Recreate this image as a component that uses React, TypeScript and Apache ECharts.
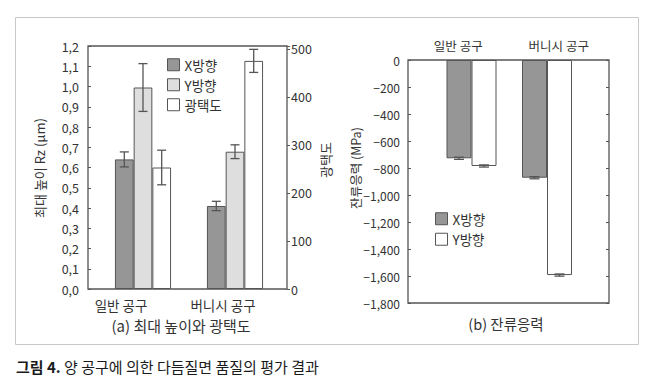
import React, { useEffect, useRef } from "react";
import * as echarts from "echarts";

const categories = ["일반 공구", "버니시 공구"];
// (a) roughness Rz (µm) and gloss
const rzX = [0.64, 0.41];
const rzXErr = [0.037, 0.023];
const rzY = [0.995, 0.678];
const rzYErr = [0.118, 0.034];
const gloss = [253, 475];
const glossErr = [36, 24];
// (b) residual stress (MPa)
const stressX = [-728, -872];
const stressXErr = [8, 8];
const stressY = [-785, -1593];
const stressYErr = [8, 8];

const FONT = '"Noto Sans CJK KR", "Noto Sans", sans-serif';
const TXT = "#333";
const LINE = "#555";
const DARK = "#969696";
const LIGHT = "#dedede";
const WHITE = "#ffffff";

const A_BAR_W = 18.7;
const B_BAR_W = 25;

function errSeries(
  xAxisIndex: number,
  yAxisIndex: number,
  values: number[],
  errs: number[],
  offset: number,
  cap: number
) {
  return {
    type: "custom",
    xAxisIndex,
    yAxisIndex,
    z: 5,
    silent: true,
    data: values.map((v, i) => [i, v, errs[i]]),
    renderItem: (params: any, api: any) => {
      const i = api.value(0);
      const v = api.value(1);
      const e = api.value(2);
      const top = api.coord([i, v + e]);
      const bot = api.coord([i, v - e]);
      const x = top[0] + offset;
      const st = { stroke: LINE, lineWidth: 1.3, fill: null };
      return {
        type: "group",
        children: [
          { type: "line", shape: { x1: x, y1: top[1], x2: x, y2: bot[1] }, style: st },
          { type: "line", shape: { x1: x - cap, y1: top[1], x2: x + cap, y2: top[1] }, style: st },
          { type: "line", shape: { x1: x - cap, y1: bot[1], x2: x + cap, y2: bot[1] }, style: st },
        ],
      };
    },
  };
}

export default function App() {
  const ref = useRef<HTMLDivElement>(null);

  useEffect(() => {
    if (!ref.current) return;
    const chart = echarts.init(ref.current, undefined, { renderer: "svg" });

    const hiddenCat = (gridIndex: number) => ({
      type: "category",
      gridIndex,
      data: categories,
      show: false,
      boundaryGap: true,
    });

    const option: any = {
      animation: false,
      backgroundColor: "#fff",
      textStyle: { fontFamily: FONT },
      grid: [
        { left: 88, top: 46, width: 199, height: 243, show: true, borderColor: LINE, borderWidth: 1.3, backgroundColor: "transparent" },
        { left: 70, top: 46, width: 204, height: 243 },
        { left: 97, top: 46, width: 184, height: 243 },
        { left: 408, top: 60, width: 201, height: 243, show: true, borderColor: LINE, borderWidth: 1.3, backgroundColor: "transparent" },
        { left: 433.75, top: 60, width: 151, height: 243 },
      ],
      xAxis: [
        hiddenCat(0),
        {
          type: "category",
          gridIndex: 1,
          data: categories,
          axisLine: { show: false },
          axisTick: { show: false },
          axisLabel: { fontSize: 13.5, color: TXT, margin: 9, fontFamily: FONT },
        },
        hiddenCat(2),
        {
          type: "category",
          gridIndex: 3,
          position: "top",
          data: categories,
          axisLine: { show: false },
          axisTick: { show: false },
          axisLabel: { fontSize: 12.5, color: TXT, margin: 8, fontFamily: FONT },
        },
        hiddenCat(4),
      ],
      yAxis: [
        {
          type: "value",
          gridIndex: 0,
          min: 0,
          max: 1.2,
          interval: 0.1,
          axisLine: { show: false },
          axisTick: { show: true, inside: true, length: 3, lineStyle: { color: LINE } },
          splitLine: { show: false },
          axisLabel: {
            fontSize: 12.5,
            color: TXT,
            margin: 9,
            fontFamily: FONT,
            formatter: (v: number) => v.toFixed(1).replace(".", ","),
          },
        },
        {
          type: "value",
          gridIndex: 0,
          position: "right",
          min: 0,
          max: 506,
          interval: 100,
          axisLine: { show: false },
          axisTick: { show: true, inside: false, length: 3, lineStyle: { color: LINE } },
          splitLine: { show: false },
          axisLabel: {
            fontSize: 12.5,
            color: TXT,
            margin: 4,
            fontFamily: FONT,
            formatter: (v: number) => (v % 100 === 0 ? String(v) : ""),
          },
        },
        { type: "value", gridIndex: 1, show: false, min: 0, max: 1 },
        { type: "value", gridIndex: 2, show: false, min: 0, max: 1.2 },
        { type: "value", gridIndex: 2, show: false, min: 0, max: 506 },
        {
          type: "value",
          gridIndex: 3,
          min: -1800,
          max: 0,
          interval: 200,
          axisLine: { show: false },
          axisTick: { show: true, inside: true, length: 3, lineStyle: { color: LINE } },
          splitLine: { show: false },
          axisLabel: {
            fontSize: 12,
            color: TXT,
            margin: 8,
            fontFamily: FONT,
            formatter: (v: number) =>
              v === 0 ? "0" : "\u2212" + Math.abs(v).toLocaleString("en-US"),
          },
        },
        {
          type: "value",
          gridIndex: 3,
          position: "right",
          min: -1800,
          max: 0,
          interval: 200,
          axisLine: { show: false },
          axisTick: { show: true, inside: true, length: 3, lineStyle: { color: LINE } },
          splitLine: { show: false },
          axisLabel: { show: false },
        },
        { type: "value", gridIndex: 4, show: false, min: -1800, max: 0 },
      ],
      legend: [
        {
          orient: "vertical",
          left: 167,
          top: 58,
          padding: 0,
          itemWidth: 12,
          itemHeight: 12,
          itemGap: 6.5,
          icon: "rect",
          selectedMode: false,
          textStyle: { fontSize: 13.5, color: TXT, fontFamily: FONT },
          data: [
            { name: "X방향", itemStyle: { color: DARK, borderColor: LINE, borderWidth: 1 } },
            { name: "Y방향", itemStyle: { color: LIGHT, borderColor: LINE, borderWidth: 1 } },
            { name: "광택도", itemStyle: { color: WHITE, borderColor: LINE, borderWidth: 1 } },
          ],
        },
        {
          orient: "vertical",
          left: 435,
          top: 212,
          padding: 0,
          itemWidth: 12,
          itemHeight: 12,
          itemGap: 7,
          icon: "rect",
          selectedMode: false,
          textStyle: { fontSize: 13.5, color: TXT, fontFamily: FONT },
          data: [
            { name: "X방향", itemStyle: { color: DARK, borderColor: LINE, borderWidth: 1 } },
            { name: "Y방향", itemStyle: { color: WHITE, borderColor: LINE, borderWidth: 1 } },
          ],
        },
      ],
      series: [
        {
          name: "X방향",
          type: "bar",
          xAxisIndex: 2,
          yAxisIndex: 3,
          barWidth: A_BAR_W,
          barGap: "0%",
          data: rzX,
          itemStyle: { color: DARK, borderColor: LINE, borderWidth: 1 },
        },
        {
          name: "Y방향",
          type: "bar",
          xAxisIndex: 2,
          yAxisIndex: 3,
          barWidth: A_BAR_W,
          barGap: "0%",
          data: rzY,
          itemStyle: { color: LIGHT, borderColor: LINE, borderWidth: 1 },
        },
        {
          name: "광택도",
          type: "bar",
          xAxisIndex: 2,
          yAxisIndex: 4,
          barWidth: A_BAR_W,
          barGap: "0%",
          data: gloss,
          itemStyle: { color: WHITE, borderColor: LINE, borderWidth: 1 },
        },
        errSeries(2, 3, rzX, rzXErr, -A_BAR_W, 4.5),
        errSeries(2, 3, rzY, rzYErr, 0, 4.5),
        errSeries(2, 4, gloss, glossErr, A_BAR_W, 4.5),
        {
          name: "X방향",
          type: "bar",
          xAxisIndex: 4,
          yAxisIndex: 7,
          barWidth: B_BAR_W,
          barGap: "0%",
          data: stressX,
          itemStyle: { color: DARK, borderColor: LINE, borderWidth: 1 },
        },
        {
          name: "Y방향",
          type: "bar",
          xAxisIndex: 4,
          yAxisIndex: 7,
          barWidth: B_BAR_W,
          barGap: "0%",
          data: stressY,
          itemStyle: { color: WHITE, borderColor: LINE, borderWidth: 1 },
        },
        errSeries(4, 7, stressX, stressXErr, -B_BAR_W / 2, 5),
        errSeries(4, 7, stressY, stressYErr, B_BAR_W / 2, 5),
      ],
      graphic: [
        {
          type: "rect",
          shape: { x: 15.5, y: 17.5, width: 623, height: 327 },
          style: { fill: null, stroke: "#c8c8c8", lineWidth: 1 },
          silent: true,
        },
        {
          type: "text",
          x: 39,
          y: 168,
          rotation: Math.PI / 2,
          style: { text: "최대 높이 Rz (μm)", fontSize: 13, fill: TXT, fontFamily: FONT, align: "center", verticalAlign: "middle" },
        },
        {
          type: "text",
          x: 325,
          y: 160,
          rotation: Math.PI / 2,
          style: { text: "광택도", fontSize: 13, fill: TXT, fontFamily: FONT, align: "center", verticalAlign: "middle" },
        },
        {
          type: "text",
          x: 355,
          y: 168,
          rotation: Math.PI / 2,
          style: { text: "잔류응력 (MPa)", fontSize: 12.5, fill: TXT, fontFamily: FONT, align: "center", verticalAlign: "middle" },
        },
        {
          type: "text",
          x: 181,
          y: 325,
          style: { text: "(a) 최대 높이와 광택도", fontSize: 15, fill: TXT, fontFamily: FONT, align: "center", verticalAlign: "middle" },
        },
        {
          type: "text",
          x: 506,
          y: 323,
          style: { text: "(b) 잔류응력", fontSize: 14.5, fill: TXT, fontFamily: FONT, align: "center", verticalAlign: "middle" },
        },
        {
          type: "text",
          x: 16,
          y: 366,
          style: {
            text: "{b|그림 4.} 양 공구에 의한 다듬질면 품질의 평가 결과",
            fontSize: 15,
            fill: "#1a1a1a",
            fontFamily: FONT,
            align: "left",
            verticalAlign: "middle",
            rich: {
              b: { fontSize: 15, fontWeight: "bold", fill: "#1a1a1a", fontFamily: FONT },
            },
          },
        },
      ],
    };

    chart.setOption(option);
    return () => chart.dispose();
  }, []);

  return (
    <div
      ref={ref}
      style={{ position: "absolute", left: 0, top: 0, width: 657, height: 380 }}
    />
  );
}
